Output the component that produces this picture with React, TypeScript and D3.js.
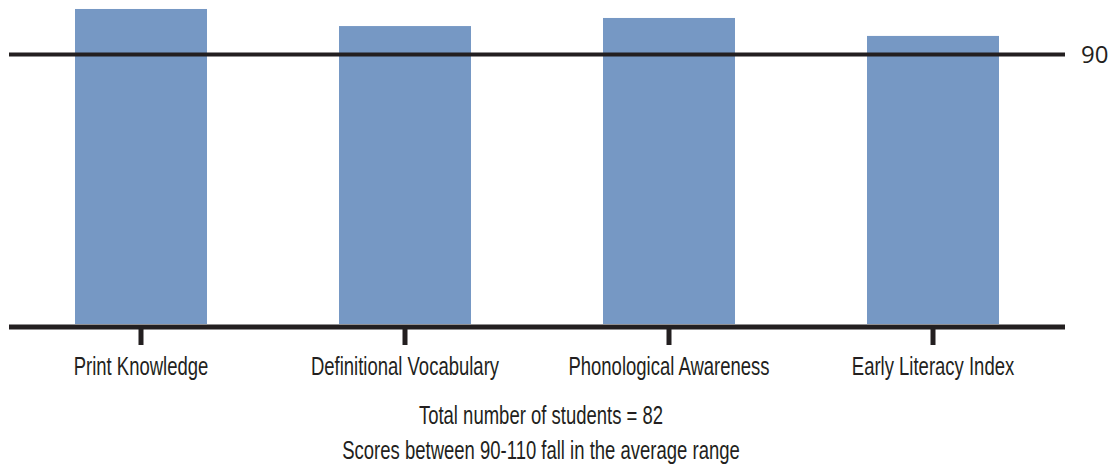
import * as d3 from "d3";

const categories = [
  "Print Knowledge",
  "Definitional Vocabulary",
  "Phonological Awareness",
  "Early Literacy Index",
];
const scores = [105.2, 99.5, 102.2, 96.2];
const referenceScore = 90;
const footnotes = [
  "Total number of students = 82",
  "Scores between 90-110 fall in the average range",
];

const width = 1112;
const height = 465;
const ink = "#231f20";
// no condensed font installed, so squeeze Liberation Sans horizontally
const squeeze = 0.74;

function Narrow({ x, y, children }: { x: number; y: number; children: string }) {
  return (
    <g transform={`translate(${x},${y}) scale(${squeeze},1)`}>
      <text
        textAnchor="middle"
        fill={ink}
        fontFamily="'Liberation Sans', Arial, sans-serif"
        fontSize={25}
      >
        {children}
      </text>
    </g>
  );
}

export default function App() {
  const x = d3
    .scaleBand<string>()
    .domain(categories)
    .range([9, 1065])
    .paddingInner(0.5)
    .paddingOuter(0.25);
  const y = d3.scaleLinear([0, referenceScore], [324, 54.5]);

  return (
    <svg
      width={width}
      height={height}
      style={{ position: "absolute", left: 0, top: 0 }}
    >
      <g fill="#7698c4">
        {categories.map((c, i) => (
          <rect
            key={c}
            x={x(c)}
            y={y(scores[i])}
            width={x.bandwidth()}
            height={y(0) - y(scores[i])}
          />
        ))}
      </g>
      <line
        x1={x.range()[0]}
        x2={x.range()[1]}
        y1={y(referenceScore)}
        y2={y(referenceScore)}
        stroke={ink}
        strokeWidth={4}
      />
      <text
        x={1081}
        y={y(referenceScore)}
        dy="0.36em"
        fill={ink}
        fontFamily="'Open Sans', sans-serif"
        fontSize={24}
      >
        {referenceScore}
      </text>
      <line
        x1={x.range()[0]}
        x2={x.range()[1]}
        y1={y(0) + 3}
        y2={y(0) + 3}
        stroke={ink}
        strokeWidth={5}
      />
      {categories.map((c) => {
        const cx = (x(c) ?? 0) + x.bandwidth() / 2;
        return (
          <g key={c}>
            <line
              x1={cx}
              x2={cx}
              y1={y(0) + 5}
              y2={y(0) + 21}
              stroke={ink}
              strokeWidth={5}
            />
            <Narrow x={cx} y={375}>
              {c}
            </Narrow>
          </g>
        );
      })}
      {footnotes.map((t, i) => (
        <Narrow key={t} x={541} y={424 + i * 35}>
          {t}
        </Narrow>
      ))}
    </svg>
  );
}
